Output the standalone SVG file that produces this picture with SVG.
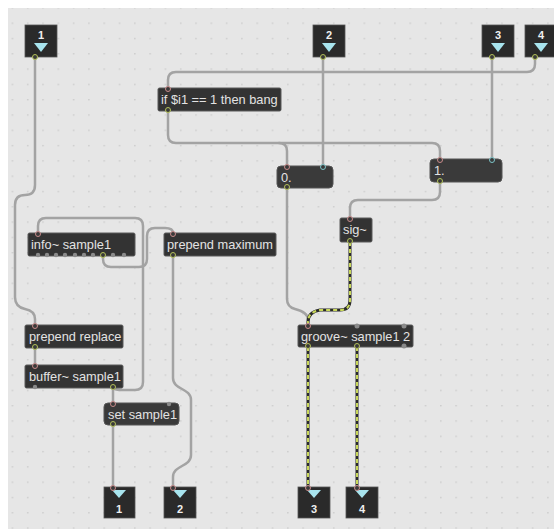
<svg xmlns="http://www.w3.org/2000/svg" width="554" height="529" viewBox="0 0 554 529">
<defs>
<pattern id="grid" x="11.6" y="7.2" width="15.3" height="15.3" patternUnits="userSpaceOnUse">
<rect x="0" y="0" width="1.6" height="1.4" fill="#cdcdcd"/>
</pattern>
<style>
.bg{fill:#e6e6e6}
.obj{fill:#333;stroke:#5a5a5a;stroke-width:1}
.msg{fill:#3a3a3a;stroke:#555;stroke-width:1}
.io{fill:#2a2a2a;stroke:#555;stroke-width:0.8}
.t{font-family:"Liberation Sans",Arial,sans-serif;font-size:12.8px;fill:#e3e3e3}
.num{font-family:"Liberation Sans",Arial,sans-serif;font-size:11px;font-weight:bold;fill:#f0f0f0;text-anchor:middle}
.tri{fill:#a8e4ee}
.cord{fill:none;stroke:#a3a3a3;stroke-width:2.5;stroke-linecap:round;stroke-linejoin:round}
.sigb{fill:none;stroke:#2a2a2a;stroke-width:3;stroke-linecap:round;stroke-linejoin:round}
.sigy{fill:none;stroke:#c9d85a;stroke-width:2;stroke-dasharray:4 3}
.pin{fill:#3a3a3a;stroke:#c78a8a;stroke-width:1}
.pout{fill:#3a3a3a;stroke:#b4c25a;stroke-width:1}
.pcy{fill:#3a3a3a;stroke:#7cc4c8;stroke-width:1}
.pgr{fill:#8a8a8a;stroke:none}
</style>
</defs>
<rect x="0" y="0" width="554" height="529" fill="#ffffff"/>
<rect class="bg" x="8" y="8" width="546" height="521"/>
<rect x="8" y="8" width="546" height="521" fill="url(#grid)"/>

<g id="connectors">
<path class="cord" d="M535,57 V64 Q535,72 527,72 H176 Q168,72 168,80 V88"/>
<path class="cord" d="M168,111 V135 Q168,143 176,143 H279 Q287,143 287,151 V166"/>
<path class="cord" d="M279,143 H432 Q440,143 440,151 V159"/>
<path class="cord" d="M323,57 V166"/>
<path class="cord" d="M492,57 V159"/>
<path class="cord" d="M440,182 V192 Q440,200 432,200 H358 Q350,200 350,208 V218"/>
<path class="cord" d="M287,188 V299 Q287,307 295,309 Q308,312 308,320 V325"/>
<path class="sigb" d="M350,242 V300 Q350,310 340,310 H320 Q308,312 308,322 V325"/>
<path class="sigy" d="M350,242 V300 Q350,310 340,310 H320 Q308,312 308,322 V325"/>
<path class="sigb" d="M308,347 V487"/>
<path class="sigy" d="M308,347 V487"/>
<path class="sigb" d="M357,347 V487"/>
<path class="sigy" d="M357,347 V487"/>
<path class="cord" d="M35,57 V185 Q35,195 25,195 Q15,195 15,205 V297 Q15,307 25,309 Q35,311 35,319 V325"/>
<path class="cord" d="M35,348 V365"/>
<path class="cord" d="M113,388 V403"/>
<path class="cord" d="M113,388 Q115,390 123,390 H135 Q143,390 143,382 V226 Q143,218 135,218 H46 Q38,218 38,226 V233"/>
<path class="cord" d="M103,256 V259 Q103,267 111,267 H139 Q147,267 147,259 V236 Q147,228 155,228 H165 Q173,228 173,233"/>
<path class="cord" d="M173,256 V378 C173,390 191,388 191,400 V455 C191,467 173,465 173,477 V487"/>
<path class="cord" d="M113,425 V487"/>
</g>

<g id="inlet1">
<rect class="io" x="25" y="25" width="32" height="32"/>
<text class="num" x="41" y="39">1</text>
<polygon class="tri" points="34,43 48,43 41,52"/>
<circle class="pout" cx="35" cy="57" r="2.5"/>
</g>
<g id="inlet2">
<rect class="io" x="313" y="25" width="32" height="32"/>
<text class="num" x="329" y="39">2</text>
<polygon class="tri" points="322,43 336,43 329,52"/>
<circle class="pout" cx="323" cy="57" r="2.5"/>
</g>
<g id="inlet3">
<rect class="io" x="482" y="25" width="32" height="32"/>
<text class="num" x="498" y="39">3</text>
<polygon class="tri" points="491,43 505,43 498,52"/>
<circle class="pout" cx="492" cy="57" r="2.5"/>
</g>
<g id="inlet4">
<rect class="io" x="525" y="25" width="32" height="32"/>
<text class="num" x="541" y="39">4</text>
<polygon class="tri" points="534,43 548,43 541,52"/>
<circle class="pout" cx="535" cy="57" r="2.5"/>
</g>

<g id="if">
<rect class="obj" x="158" y="88" width="123" height="23" rx="1.5"/>
<text class="t" x="161" y="104">if $i1 == 1 then bang</text>
<circle class="pin" cx="168" cy="89" r="2.5"/>
<circle class="pout" cx="168" cy="110" r="2.5"/>
</g>

<g id="msg0">
<rect class="msg" x="277" y="166" width="56" height="22" rx="4"/>
<text class="t" x="281" y="182">0.</text>
<circle class="pin" cx="287" cy="167" r="2.5"/>
<circle class="pcy" cx="323" cy="167" r="2.5"/>
<circle class="pout" cx="287" cy="187" r="2.5"/>
</g>

<g id="msg1">
<rect class="msg" x="430" y="159" width="72" height="23" rx="4"/>
<text class="t" x="434" y="175">1.</text>
<circle class="pin" cx="440" cy="160" r="2.5"/>
<circle class="pcy" cx="492" cy="160" r="2.5"/>
<circle class="pout" cx="440" cy="181" r="2.5"/>
</g>

<g id="sig">
<rect class="obj" x="340" y="218" width="32" height="24" rx="1.5"/>
<text class="t" x="343" y="234">sig~</text>
<circle class="pin" cx="350" cy="219" r="2.5"/>
<circle class="pout" cx="350" cy="241" r="2.5"/>
</g>

<g id="groove">
<rect class="obj" x="298" y="325" width="115" height="22" rx="1.5"/>
<text class="t" x="301" y="341">groove~ sample1 2</text>
<circle class="pin" cx="308" cy="326" r="2.5"/>
<circle class="pgr" cx="357" cy="326" r="2.5"/>
<circle class="pgr" cx="404" cy="326" r="2.5"/>
<circle class="pout" cx="308" cy="346" r="2.5"/>
<circle class="pout" cx="357" cy="346" r="2.5"/>
<circle class="pgr" cx="404" cy="346" r="2.5"/>
</g>

<g id="info">
<rect class="obj" x="28" y="233" width="107" height="23" rx="1.5"/>
<text class="t" x="31" y="249">info~ sample1</text>
<circle class="pin" cx="38" cy="234" r="2.5"/>
<circle class="pgr" cx="38" cy="255" r="2.2"/>
<circle class="pgr" cx="47" cy="255" r="2.2"/>
<circle class="pgr" cx="56" cy="255" r="2.2"/>
<circle class="pgr" cx="65" cy="255" r="2.2"/>
<circle class="pgr" cx="75" cy="255" r="2.2"/>
<circle class="pgr" cx="84" cy="255" r="2.2"/>
<circle class="pgr" cx="93" cy="255" r="2.2"/>
<circle class="pout" cx="103" cy="255" r="2.5"/>
<circle class="pgr" cx="113" cy="255" r="2.2"/>
<circle class="pgr" cx="124" cy="255" r="2.2"/>
</g>

<g id="prependmax">
<rect class="obj" x="164" y="233" width="112" height="23" rx="1.5"/>
<text class="t" x="167" y="249">prepend maximum</text>
<circle class="pin" cx="173" cy="234" r="2.5"/>
<circle class="pout" cx="173" cy="255" r="2.5"/>
</g>

<g id="prependrep">
<rect class="obj" x="25" y="325" width="98" height="23" rx="1.5"/>
<text class="t" x="29" y="341">prepend replace</text>
<circle class="pin" cx="35" cy="326" r="2.5"/>
<circle class="pout" cx="35" cy="347" r="2.5"/>
</g>

<g id="buffer">
<rect class="obj" x="25" y="365" width="98" height="23" rx="1.5"/>
<text class="t" x="29" y="381">buffer~ sample1</text>
<circle class="pin" cx="35" cy="366" r="2.5"/>
<circle class="pgr" cx="35" cy="387" r="2.2"/>
<circle class="pout" cx="113" cy="387" r="2.5"/>
</g>

<g id="setmsg">
<rect class="msg" x="104" y="403" width="75" height="22" rx="4"/>
<text class="t" x="108" y="419">set sample1</text>
<circle class="pin" cx="113" cy="404" r="2.5"/>
<circle class="pgr" cx="169" cy="404" r="2.2"/>
<circle class="pout" cx="113" cy="424" r="2.5"/>
</g>

<g id="outlet1">
<rect class="io" x="104" y="487" width="31" height="31"/>
<polygon class="tri" points="112,490 126,490 119,498"/>
<text class="num" x="119" y="513">1</text>
<circle class="pin" cx="113" cy="488" r="2.5"/>
</g>
<g id="outlet2">
<rect class="io" x="164" y="487" width="32" height="31"/>
<polygon class="tri" points="173,490 187,490 180,498"/>
<text class="num" x="180" y="513">2</text>
<circle class="pin" cx="173" cy="488" r="2.5"/>
</g>
<g id="outlet3">
<rect class="io" x="298" y="487" width="32" height="31"/>
<polygon class="tri" points="307,490 321,490 314,498"/>
<text class="num" x="314" y="513">3</text>
<circle class="pin" cx="308" cy="488" r="2.5"/>
</g>
<g id="outlet4">
<rect class="io" x="346" y="487" width="32" height="31"/>
<polygon class="tri" points="355,490 369,490 362,498"/>
<text class="num" x="362" y="513">4</text>
<circle class="pin" cx="357" cy="488" r="2.5"/>
</g>
</svg>
